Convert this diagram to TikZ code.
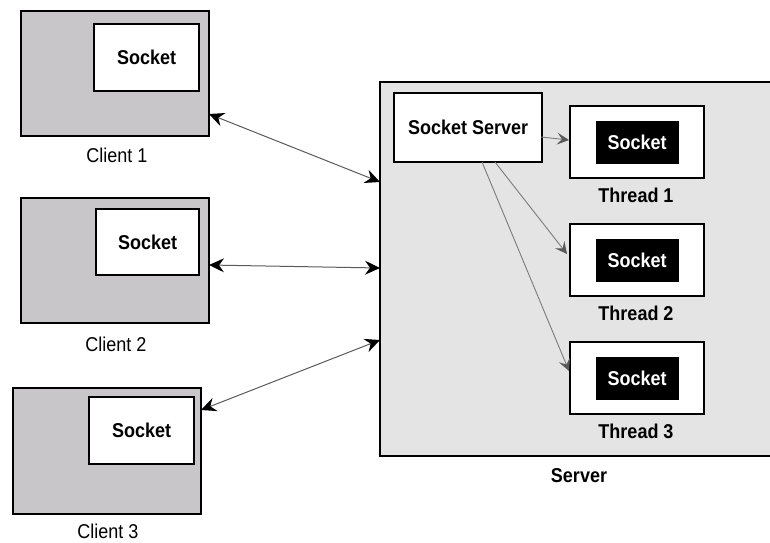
\documentclass[tikz,border=0pt]{standalone}
\usepackage{fontspec}
\setmainfont[FakeStretch=0.9]{Liberation Sans}
\usetikzlibrary{arrows.meta}
\definecolor{clientgray}{RGB}{200,198,200}
\definecolor{servergray}{RGB}{228,228,228}
\definecolor{linegray}{RGB}{90,90,90}
\tikzset{
  clientbox/.style={draw=black,line width=2.8pt,fill=clientgray},
  whitebox/.style={draw=black,line width=2.4pt,fill=white,font=\fontsize{20}{22}\selectfont\bfseries},
  serverbox/.style={draw=black,line width=2.8pt,fill=servergray},
  blackbox/.style={fill=black,text=white,font=\fontsize{20}{22}\selectfont\bfseries},
  lbl/.style={font=\fontsize{20}{22}\selectfont},
  blbl/.style={font=\fontsize{20}{22}\selectfont\bfseries},
  biarrow/.style={draw=linegray,line width=1pt,{Stealth[length=15pt,width=14pt,inset=5pt,black]}-{Stealth[length=15pt,width=14pt,inset=5pt,black]}},
  tharrow/.style={draw=linegray!80,line width=0.9pt,-{Stealth[length=12pt,width=12pt,inset=5pt,linegray]}},
}
\begin{document}
\begin{tikzpicture}[x=1pt,y=-1pt]
\useasboundingbox (0,0) rectangle (770,542);
\clip (0,0) rectangle (770,542);
% clients
\path[clientbox] (21,11) rectangle (209,136);
\node[whitebox,minimum width=105pt,minimum height=67pt,anchor=north west] (s1) at (93,23) {Socket};
\node[lbl] (c1) at (117,155) {Client 1};
\path[clientbox] (21,198) rectangle (209,323);
\node[whitebox,minimum width=103pt,minimum height=66pt,anchor=north west] (s2) at (95,208) {Socket};
\node[lbl] (c2) at (116,344) {Client 2};
\path[clientbox] (13,388) rectangle (201,514);
\node[whitebox,minimum width=105pt,minimum height=67pt,anchor=north west] (s3) at (88,396) {Socket};
\node[lbl] (c3) at (108,531) {Client 3};
\coordinate (c1r) at (209,114);
\coordinate (c2r) at (209,265);
\coordinate (c3r) at (201,410);
% server
\path[serverbox] (380,82) rectangle (790,456);
\node[blbl] (srv) at (579,476) {Server};
\coordinate (sv1) at (380,182);
\coordinate (sv2) at (380,268);
\coordinate (sv3) at (380,340);
\node[whitebox,minimum width=148pt,minimum height=69pt,anchor=north west] (ss) at (393,92) {Socket Server};
% threads
\foreach \i/\y/\ly in {1/105/195,2/223/313,3/341/431}{
  \node[whitebox,minimum width=134pt,minimum height=72pt,anchor=north west] (t\i) at (569,\y) {};
  \node[blackbox,minimum width=83pt,minimum height=43pt] (k\i) at (t\i.center) {Socket};
  \node[blbl] (tl\i) at (636,\ly) {Thread \i};
}
% connectors
\draw[biarrow] (c1r) -- (sv1);
\draw[biarrow] (c2r) -- (sv2);
\draw[biarrow] (c3r) -- (sv3);
\coordinate (ss1) at (541,137);
\coordinate (ss2) at (495,162);
\coordinate (ss3) at (482,162);
\coordinate (t1in) at (569,140);
\coordinate (t2in) at (567,254);
\coordinate (t3in) at (569,371);
\draw[tharrow] (ss1) -- (t1in);
\draw[tharrow] (ss2) -- (t2in);
\draw[tharrow] (ss3) -- (t3in);
\end{tikzpicture}
\end{document}
